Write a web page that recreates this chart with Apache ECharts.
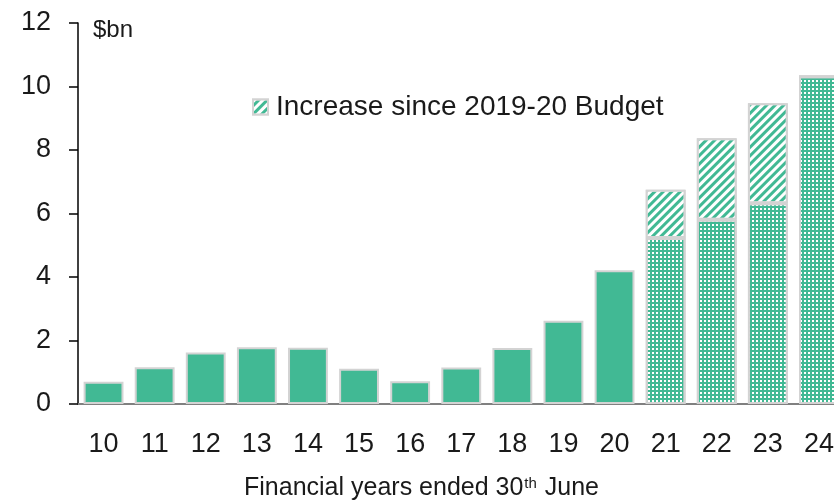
<!DOCTYPE html>
<html>
<head>
<meta charset="utf-8">
<script src="https://cdn.jsdelivr.net/npm/echarts@6/dist/echarts.min.js"></script>
<style>
  html, body { margin: 0; padding: 0; background: #fff; }
  #chart { width: 834px; height: 504px; }
</style>
</head>
<body>
<div id="chart"></div>
<script>
// 财年（截至6月30日）
const years = ['10', '11', '12', '13', '14', '15', '16', '17', '18', '19', '20', '21', '22', '23', '24'];
// 历史值（实心柱）
const actual = [0.70, 1.16, 1.62, 1.79, 1.77, 1.11, 0.72, 1.15, 1.76, 2.62, 4.21, '-', '-', '-', '-'];
// 预测的基准部分（点状柱）
const projected = ['-', '-', '-', '-', '-', '-', '-', '-', '-', '-', '-', 5.23, 5.80, 6.32, 10.32];
// 自 2019-20 预算以来的增加（斜线柱）
const increase = ['-', '-', '-', '-', '-', '-', '-', '-', '-', '-', '-', 1.52, 2.57, 3.15, 0];
const yTicks = [0, 2, 4, 6, 8, 10, 12];

const green = '#41b994';
const border = '#d3d3d3';
const font = 'Liberation Sans';

const dotDecal = {
    symbol: 'rect',
    color: '#ffffff',
    dashArrayX: [2, 2],
    dashArrayY: [2, 2],
    rotation: 0
};
const hatchDecal = {
    symbol: 'rect',
    color: '#ffffff',
    dashArrayX: [1, 0],
    dashArrayY: [3, 3],
    rotation: -Math.PI / 4
};

let myChart = echarts.init(document.getElementById('chart'));
myChart.setOption({
    animation: false,
    textStyle: { fontFamily: font, color: '#1a1a1a' },
    // 右侧被裁掉一部分，所以用固定宽度让最后一根柱子超出画布
    grid: { left: 78, width: 766.5, top: 23, bottom: 100, containLabel: false, outerBoundsMode: 'none' },
    legend: {
        data: ['Increase since 2019-20 Budget'],
        left: 247,
        top: 88,
        icon: 'rect',
        itemWidth: 15,
        itemHeight: 15,
        itemGap: 13,
        textStyle: { fontSize: 28, fontFamily: font, color: '#1a1a1a', padding: [0, 0, 0, 3] }
    },
    title: {
        text: '{a|Financial years ended 30}{s|th}{a| June}',
        left: 244,
        top: 476,
        padding: 0,
        textStyle: {
            fontWeight: 'normal',
            rich: {
                a: { fontSize: 25, fontFamily: font, color: '#1a1a1a', fontWeight: 'normal' },
                s: { fontSize: 15, fontFamily: font, color: '#1a1a1a', fontWeight: 'normal', verticalAlign: 'top', padding: [0, 1, 10, 1] }
            }
        }
    },
    graphic: [{
        type: 'text',
        left: 93,
        top: 18,
        style: { text: '$bn', fontSize: 24, fontFamily: font, fill: '#1a1a1a' }
    }],
    xAxis: {
        type: 'category',
        data: years,
        boundaryGap: true,
        axisLine: { lineStyle: { color: '#808080', width: 2 } },
        axisTick: { length: 8, lineStyle: { color: '#333', width: 1.5 } },
        axisLabel: { fontSize: 27, color: '#1a1a1a', margin: 27, interval: 0 }
    },
    yAxis: {
        type: 'value',
        min: yTicks[0],
        max: yTicks[yTicks.length - 1],
        interval: 2,
        splitLine: { show: false },
        axisLine: { show: true, lineStyle: { color: '#000', width: 1.5 } },
        axisTick: { show: true, length: 9, lineStyle: { color: '#000', width: 1.5 } },
        axisLabel: { fontSize: 27, color: '#1a1a1a', margin: 27 }
    },
    series: [
        {
            name: 'Actual',
            type: 'bar',
            stack: 'total',
            data: actual,
            barCategoryGap: '22%',
            itemStyle: { color: green, borderColor: border, borderWidth: 2 }
        },
        {
            name: 'Projected',
            type: 'bar',
            stack: 'total',
            data: projected,
            itemStyle: { color: green, borderColor: border, borderWidth: 2, decal: dotDecal }
        },
        {
            name: 'Increase since 2019-20 Budget',
            type: 'bar',
            stack: 'total',
            data: increase,
            itemStyle: { color: green, borderColor: border, borderWidth: 2, decal: hatchDecal }
        }
    ]
});
window.addEventListener('resize', () => {
    myChart.resize();
});
</script>
</body>
</html>
